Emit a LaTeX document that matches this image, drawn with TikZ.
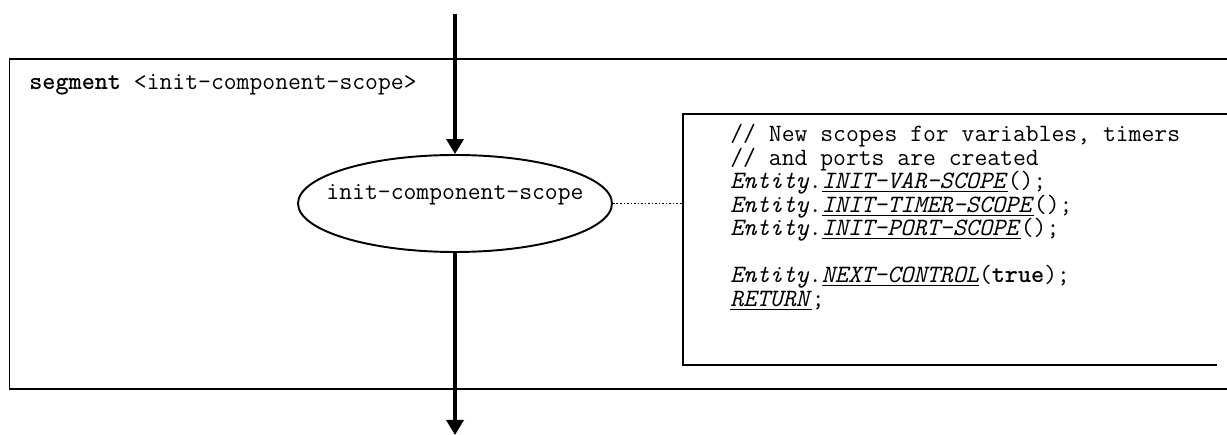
\documentclass[tikz,border=0pt]{standalone}
\usepackage{tikz}
\usetikzlibrary{positioning,arrows.meta,shapes.geometric}

\begin{document}
\begin{tikzpicture}[
      font=\ttfamily\fontsize{14.2pt}{16.5pt}\selectfont,
      frameline/.style={draw, line width=1.1pt},
      flow/.style={draw, line width=2pt},
      state/.style={draw, ellipse, line width=1.1pt, minimum width=6.28cm,
                    minimum height=1.94cm, inner sep=0pt},
      codeline/.style={anchor=base west, inner sep=0pt},
      >={Triangle[length=0.3cm, width=0.34cm]}
    ]
    \useasboundingbox (0,0) rectangle (24.54,-8.7);

    % segment frame
    \draw[frameline] (24.54,-1.18) -| (0.19,-7.78) -- (24.54,-7.78);
    \node[codeline] (title) at (0.58,-1.8)
      {\textbf{segment} <init-component-scope>};

    % flow through the state
    \coordinate (in) at (9.1,-0.28);
    \node[state] (ics) at (9.1,-4.07)
      {\smash{\raisebox{0.08cm}{\makebox[0pt]{init-component-scope}}}};
    \coordinate (out) at (9.1,-8.7);
    \draw[flow, ->] (in) -- (ics.north);
    \draw[flow, ->] (ics.south) -- (out);

    % code box
    \coordinate (boxtl) at (13.66,-2.28);
    \draw[frameline] (24.54,-2.28) -- (boxtl) -- (13.66,-7.3) -- (24.34,-7.3);
    \foreach \n/\ln/\txt in {
        c1/0/{// New scopes for variables, timers},
        c2/1/{// and ports are created},
        c3/2/{\textit{Entity}.\underline{\textit{INIT-VAR-SCOPE}}();},
        c4/3/{\textit{Entity}.\underline{\textit{INIT-TIMER-SCOPE}}();},
        c5/4/{\textit{Entity}.\underline{\textit{INIT-PORT-SCOPE}}();},
        c6/6/{\textit{Entity}.\underline{\textit{NEXT-CONTROL}}(\textbf{true});},
        c7/7/{\underline{\textit{RETURN}};}} {
      \node[codeline] (\n) at (14.6,-2.84-0.47*\ln) {\txt};
    }
    \draw[line width=1pt, dash pattern=on 1pt off 1pt]
      (ics.east) -- (ics.east -| boxtl);
  \end{tikzpicture}
\end{document}
